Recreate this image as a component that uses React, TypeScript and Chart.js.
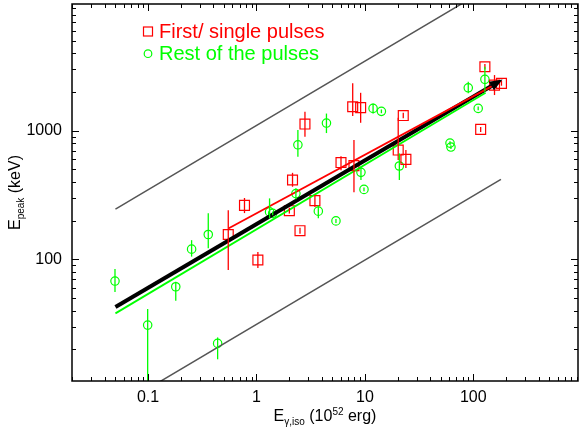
import React, { useEffect, useRef } from 'react';
import { Chart, registerables } from 'chart.js';

Chart.register(...registerables);

const FONT = '"Liberation Sans", Arial, Helvetica, sans-serif';
const RED = '#ff0000';
const GREEN = '#00ff00';
const GRAY = '#555555';

// Axis ranges (E_gamma,iso in 1e52 erg, E_peak in keV)
const X_MIN = 0.01986;
const X_MAX = 925;
const Y_MIN = 11.32;
const Y_MAX = 9683;
const X_MAJOR = [0.1, 1, 10, 100];
const Y_MAJOR = [100, 1000];

// First / single pulses
const firstE = [0.549, 0.775, 1.03, 2.01, 2.15, 2.52, 2.8, 3.46, 6.02, 7.72, 9.14, 7.93, 20.3, 22.6, 23.9, 117, 128, 157, 182];
const firstEp = [156, 263, 98.8, 239, 414, 167, 1128, 286, 566, 1538, 1514, 536, 708, 1313, 599, 1025, 3148, 2266, 2339];
const firstEpLo = [82.6, 229, 85.5, 227, 367, 158, 898, 255, 494, 1301, 1154, 333, 592, 1250, 513, 980, 3000, 1896, 2240];
const firstEpHi = [241, 300, 114, 252, 471, 176, 1405, 316, 635, 2339, 1974, 847, 1260, 1380, 708, 1070, 3300, 2713, 2440];

// Rest of the pulses
const restE = [0.0495, 0.0991, 0.18, 0.252, 0.359, 0.438, 1.32, 1.41, 2.31, 2.41, 4.42, 3.72, 5.41, 9.2, 9.81, 11.9, 14.2, 20.8, 61.0, 62.2, 89.9, 111, 128];
const restEp = [67.8, 30.8, 61.2, 120, 156, 22.2, 234, 228, 325, 778, 1148, 237, 199, 475, 350, 1493, 1416, 532, 802, 747, 2158, 1493, 2512];
const restEpLo = [55.7, 5, 47.7, 105, 122, 16.7, 208, 220, 294, 628, 960, 209, 192, 414, 338, 1365, 1370, 414, 775, 722, 1954, 1445, 2009];
const restEpHi = [84.1, 41.1, 67.0, 141, 228, 24.7, 298, 236, 358, 1012, 1361, 264, 206, 525, 362, 1633, 1465, 667, 830, 772, 2405, 1543, 3148];

// Reference lines and fits (end points)
const upperBoundE = [0.05, 180];
const upperBoundEp = [246, 14760];
const lowerBoundE = [0.05, 180];
const lowerBoundEp = [6.98, 419];
const fitFirstE = [0.55, 176];
const fitFirstEp = [174, 2400];
const fitRestE = [0.05, 130];
const fitRestEp = [38, 1974];
const fitAllE = [0.05, 167];
const fitAllEp = [42.6, 2376];

const pts = (xs: number[], ys: number[]) => xs.map((x, i) => ({ x, y: ys[i] }));

const minorValues = (min: number, max: number) => {
  const out: number[] = [];
  for (let d = Math.floor(Math.log10(min)); d <= Math.ceil(Math.log10(max)); d++) {
    for (let m = 2; m <= 9; m++) {
      const v = m * Math.pow(10, d);
      if (v >= min && v <= max) out.push(v);
    }
  }
  return out;
};

const zeroPadding = (s: any) => {
  s.paddingLeft = 0;
  s.paddingRight = 0;
  s.paddingTop = 0;
  s.paddingBottom = 0;
};

const errorBars = {
  id: 'errorBars',
  afterDatasetsDraw(chart: any) {
    const { ctx, chartArea: a, scales } = chart;
    const sets = [
      { e: firstE, lo: firstEpLo, hi: firstEpHi, color: RED },
      { e: restE, lo: restEpLo, hi: restEpHi, color: GREEN },
    ];
    ctx.save();
    ctx.beginPath();
    ctx.rect(a.left, a.top, a.right - a.left, a.bottom - a.top);
    ctx.clip();
    ctx.lineWidth = 1.3;
    for (const s of sets) {
      ctx.strokeStyle = s.color;
      s.e.forEach((e, i) => {
        const x = scales.x.getPixelForValue(e);
        ctx.beginPath();
        ctx.moveTo(x, scales.y.getPixelForValue(s.lo[i]));
        ctx.lineTo(x, scales.y.getPixelForValue(s.hi[i]));
        ctx.stroke();
      });
    }
    ctx.restore();
  },
};

const arrowHead = {
  id: 'arrowHead',
  afterDatasetsDraw(chart: any) {
    const meta = chart.getDatasetMeta(4);
    const p0 = meta.data[0];
    const p1 = meta.data[1];
    const dx = p1.x - p0.x;
    const dy = p1.y - p0.y;
    const len = Math.hypot(dx, dy);
    const ux = dx / len;
    const uy = dy / len;
    const tipX = p1.x + ux * 6;
    const tipY = p1.y + uy * 6;
    const bx = p1.x - ux * 7;
    const by = p1.y - uy * 7;
    const hw = 5;
    const { ctx } = chart;
    ctx.save();
    ctx.fillStyle = '#000';
    ctx.beginPath();
    ctx.moveTo(tipX, tipY);
    ctx.lineTo(bx - uy * hw, by + ux * hw);
    ctx.lineTo(bx + uy * hw, by - ux * hw);
    ctx.closePath();
    ctx.fill();
    ctx.restore();
  },
};

const frameTicks = {
  id: 'frameTicks',
  afterDraw(chart: any) {
    const { ctx, chartArea: a, scales } = chart;
    ctx.save();
    ctx.strokeStyle = '#000';
    ctx.lineWidth = 1.5;
    ctx.strokeRect(a.left, a.top, a.right - a.left, a.bottom - a.top);
    ctx.lineWidth = 1;
    const xt = (v: number, l: number) => {
      const x = Math.round(scales.x.getPixelForValue(v)) + 0.5;
      ctx.beginPath();
      ctx.moveTo(x, a.bottom);
      ctx.lineTo(x, a.bottom - l);
      ctx.moveTo(x, a.top);
      ctx.lineTo(x, a.top + l);
      ctx.stroke();
    };
    const yt = (v: number, l: number) => {
      const y = Math.round(scales.y.getPixelForValue(v)) + 0.5;
      ctx.beginPath();
      ctx.moveTo(a.left, y);
      ctx.lineTo(a.left + l, y);
      ctx.moveTo(a.right, y);
      ctx.lineTo(a.right - l, y);
      ctx.stroke();
    };
    minorValues(X_MIN, X_MAX).forEach((v) => xt(v, 4));
    X_MAJOR.forEach((v) => xt(v, 7));
    minorValues(Y_MIN, Y_MAX).forEach((v) => yt(v, 4));
    Y_MAJOR.forEach((v) => yt(v, 7));
    ctx.restore();
  },
};

type Part = { t: string; size: number; dy: number };

const drawRich = (ctx: CanvasRenderingContext2D, parts: Part[], cx: number, y: number) => {
  let total = 0;
  for (const p of parts) {
    ctx.font = `${p.size}px ${FONT}`;
    total += ctx.measureText(p.t).width;
  }
  let x = cx - total / 2;
  ctx.textAlign = 'left';
  ctx.textBaseline = 'alphabetic';
  for (const p of parts) {
    ctx.font = `${p.size}px ${FONT}`;
    ctx.fillText(p.t, x, y + p.dy);
    x += ctx.measureText(p.t).width;
  }
};

const titlesAndLegend = {
  id: 'titlesAndLegend',
  afterDraw(chart: any) {
    const { ctx, chartArea: a } = chart;
    ctx.save();
    ctx.fillStyle = '#000';
    drawRich(
      ctx,
      [
        { t: 'E', size: 16, dy: 0 },
        { t: 'γ,iso', size: 10, dy: 4 },
        { t: ' (10', size: 16, dy: 0 },
        { t: '52', size: 10, dy: -6 },
        { t: ' erg)', size: 16, dy: 0 },
      ],
      (a.left + a.right) / 2,
      421
    );
    ctx.save();
    ctx.translate(20, (a.top + a.bottom) / 2);
    ctx.rotate(-Math.PI / 2);
    drawRich(
      ctx,
      [
        { t: 'E', size: 16, dy: 0 },
        { t: 'peak', size: 10, dy: 4 },
        { t: ' (keV)', size: 16, dy: 0 },
      ],
      0,
      0
    );
    ctx.restore();

    // legend
    ctx.lineWidth = 1.2;
    ctx.strokeStyle = RED;
    ctx.strokeRect(143.5, 27, 9, 9);
    ctx.strokeStyle = GREEN;
    ctx.beginPath();
    ctx.arc(148, 53.7, 3.8, 0, Math.PI * 2);
    ctx.stroke();
    ctx.font = `20px ${FONT}`;
    ctx.textAlign = 'left';
    ctx.textBaseline = 'alphabetic';
    ctx.fillStyle = RED;
    ctx.fillText('First/ single pulses', 159, 37.5);
    ctx.fillStyle = GREEN;
    ctx.fillText('Rest of the pulses', 159, 60);
    ctx.restore();
  },
};

export default function App() {
  const ref = useRef<HTMLCanvasElement>(null);

  useEffect(() => {
    const canvas = ref.current;
    if (!canvas) return;
    const lineDs = (xs: number[], ys: number[], color: string, width: number) => ({
      data: pts(xs, ys),
      showLine: true,
      pointRadius: 0,
      borderColor: color,
      borderWidth: width,
      clip: 0,
    });
    const chart = new Chart(canvas, {
      type: 'scatter',
      data: {
        datasets: [
          lineDs(upperBoundE, upperBoundEp, GRAY, 1.5),
          lineDs(lowerBoundE, lowerBoundEp, GRAY, 1.5),
          lineDs(fitFirstE, fitFirstEp, RED, 1.8),
          lineDs(fitRestE, fitRestEp, GREEN, 1.8),
          lineDs(fitAllE, fitAllEp, '#000000', 4),
          {
            data: pts(firstE, firstEp),
            pointStyle: 'rect',
            pointRadius: 7,
            pointBorderColor: RED,
            pointBackgroundColor: 'rgba(0,0,0,0)',
            pointBorderWidth: 1.2,
            showLine: false,
          },
          {
            data: pts(restE, restEp),
            pointStyle: 'circle',
            pointRadius: 4.2,
            pointBorderColor: GREEN,
            pointBackgroundColor: 'rgba(0,0,0,0)',
            pointBorderWidth: 1.2,
            showLine: false,
          },
        ],
      } as any,
      options: {
        animation: false,
        responsive: false,
        devicePixelRatio: 1,
        events: [],
        layout: { autoPadding: false, padding: { top: 4, right: 1, left: 0, bottom: 0 } },
        plugins: { legend: { display: false }, tooltip: { enabled: false } },
        scales: {
          x: {
            type: 'logarithmic',
            min: X_MIN,
            max: X_MAX,
            position: 'bottom',
            grid: { display: false, drawTicks: false },
            border: { display: false },
            ticks: {
              font: { family: FONT, size: 16 },
              color: '#000',
              padding: 7,
              maxRotation: 0,
              autoSkip: false,
              callback: (v: any) => String(v),
            },
            afterBuildTicks: (s: any) => {
              s.ticks = X_MAJOR.map((value) => ({ value }));
            },
            afterFit: (s: any) => {
              s.height = 51;
              zeroPadding(s);
            },
          },
          y: {
            type: 'logarithmic',
            min: Y_MIN,
            max: Y_MAX,
            position: 'left',
            grid: { display: false, drawTicks: false },
            border: { display: false },
            ticks: {
              font: { family: FONT, size: 16 },
              color: '#000',
              padding: 10,
              autoSkip: false,
              callback: (v: any) => String(v),
            },
            afterBuildTicks: (s: any) => {
              s.ticks = Y_MAJOR.map((value) => ({ value }));
            },
            afterFit: (s: any) => {
              s.width = 72;
              zeroPadding(s);
            },
          },
        },
      } as any,
      plugins: [errorBars, arrowHead, frameTicks, titlesAndLegend],
    });
    return () => chart.destroy();
  }, []);

  return (
    <div style={{ position: 'fixed', left: 0, top: 0, width: 579, height: 432, background: '#fff' }}>
      <canvas ref={ref} width={579} height={432} style={{ display: 'block', width: 579, height: 432 }} />
    </div>
  );
}
